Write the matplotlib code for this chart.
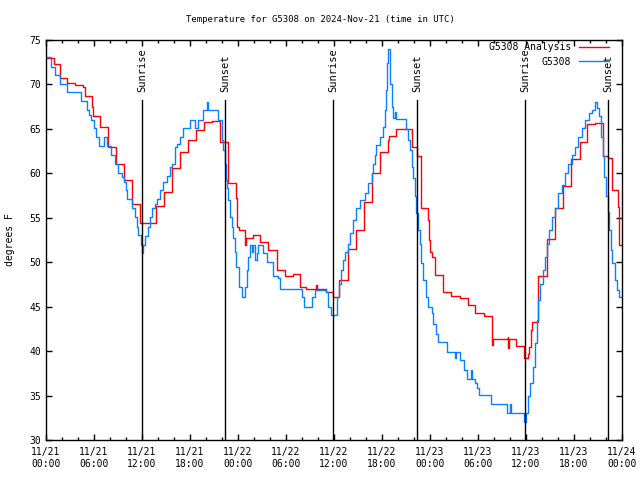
import matplotlib
matplotlib.use('Agg')
import matplotlib.pyplot as plt
from matplotlib.ticker import MultipleLocator

plt.rcParams['font.family'] = ['DejaVu Sans Mono']
plt.rcParams['font.size'] = 6.5

# hours since 2024-11-21 00:00 UTC
ana_hours = [0.0, 1.0, 1.75, 2.6, 3.6, 4.6, 4.9, 5.8, 5.9, 6.8, 7.8, 8.8, 9.75, 10.7,
             11.75, 13.8, 14.75, 15.8, 16.75, 17.8, 18.7, 19.7, 20.7, 21.75, 22.7,
             22.8, 23.7, 23.85, 24.1, 24.9, 25.0, 25.85, 26.75, 27.8, 28.85, 29.9,
             30.85, 31.75, 32.5, 33.75, 33.85, 35.0, 35.9, 36.65, 37.7, 38.75, 39.8,
             40.8, 41.75, 42.7, 42.9, 43.7, 45.7, 46.35, 46.85, 46.9, 47.8, 47.85,
             48.0, 48.3, 48.6, 49.65, 50.6, 51.75, 52.7, 53.6, 54.7, 55.7, 55.9,
             57.7, 57.8, 57.85, 58.7, 59.75, 60.3, 60.4, 60.6, 60.8, 61.5, 62.6,
             63.6, 64.6, 65.6, 66.7, 67.6, 68.6, 69.6, 70.3, 70.7, 71.5, 71.6, 72.0]
ana_temp = [73.0, 72.3, 70.7, 70.2, 69.9, 69.7, 68.7, 67.5, 66.5, 65.2, 63.0, 61.1, 59.25, 56.6,
            54.45, 56.3, 57.9, 60.6, 62.4, 63.8, 64.9, 65.8, 65.9, 63.5, 61.1,
            58.9, 57.2, 54.0, 53.6, 51.9, 52.7, 53.1, 52.3, 51.4, 49.1, 48.45,
            48.7, 47.2, 47.0, 47.4, 47.0, 46.7, 46.1, 48.0, 51.45, 53.6, 56.8,
            60.0, 62.4, 63.75, 64.2, 64.95, 63.0, 61.95, 59.06, 56.06, 54.8, 52.5,
            51.2, 50.6, 48.56, 46.7, 46.2, 46.0, 45.2, 44.25, 43.9, 40.7, 41.4,
            41.6, 40.3, 41.4, 40.6, 39.2, 39.7, 40.5, 42.4, 43.3, 48.4, 52.6,
            56.06, 58.6, 61.6, 63.55, 65.5, 65.7, 61.95, 61.7, 58.1, 56.25, 51.9, 51.9]

obs_hours = [0.0, 0.65, 1.1, 1.75, 2.65, 4.4, 5.1, 5.4, 5.6, 6.0, 6.2, 6.6, 7.25, 7.65,
             8.1, 8.6, 9.0, 9.55, 9.75, 9.95, 10.15, 10.8, 11.1, 11.35, 11.55, 11.85,
             11.95, 12.1, 12.4, 12.7, 13.0, 13.3, 13.6, 13.85, 14.25, 14.65, 15.1,
             15.5, 15.8, 16.1, 16.4, 16.75, 17.15, 18.0, 18.6, 19.0, 19.65, 20.1,
             20.3, 21.55, 21.95, 22.15, 22.35, 22.5, 22.65, 22.8, 23.0, 23.2, 23.4,
             23.6, 23.8, 24.15, 24.45, 24.9, 25.1, 25.3, 25.5, 25.7, 25.9, 26.1,
             26.35, 26.55, 27.1, 27.6, 28.35, 29.05, 29.25, 31.95, 32.2, 33.2, 33.6,
             34.2, 35.05, 35.3, 35.6, 36.4, 36.65, 36.85, 37.1, 37.4, 37.8, 38.0,
             38.4, 38.75, 39.25, 39.9, 40.3, 40.7, 40.9, 41.1, 41.3, 41.75, 42.15,
             42.4, 42.5, 42.65, 42.8, 43.0, 43.2, 43.4, 43.6, 43.75, 45.05, 45.3,
             45.5, 45.7, 45.9, 46.1, 46.3, 46.5, 46.7, 46.9, 47.15, 47.5, 47.8,
             48.2, 48.4, 48.75, 49.05, 50.15, 51.1, 51.3, 51.75, 52.2, 52.6, 53.1,
             53.3, 53.6, 53.85, 54.15, 55.6, 57.6, 58.0, 58.1, 59.75, 60.0, 60.3,
             60.5, 60.85, 61.1, 61.35, 61.55, 61.75, 62.1, 62.4, 62.6, 62.9, 63.2,
             63.6, 64.05, 64.45, 64.9, 65.3, 65.7, 66.1, 66.55, 66.95, 67.4, 67.9,
             68.2, 68.6, 68.85, 69.1, 69.35, 69.6, 69.75, 70.0, 70.2, 70.4, 70.6,
             70.8, 71.1, 71.4, 71.6, 72.0]
obs_temp = [73.05, 72.0, 71.06, 70.05, 69.1, 68.1, 67.1, 66.6, 66.0, 65.06, 64.1, 63.1, 64.1, 63.1,
            62.06, 61.05, 60.07, 59.6, 59.06, 58.1, 57.08, 56.06, 55.1, 54.0, 53.06, 51.9,
            51.0, 51.9, 52.9, 54.0, 55.1, 56.06, 56.6, 57.08, 58.1, 59.06, 59.7,
            60.75, 61.1, 63.0, 63.3, 64.1, 65.06, 66.0, 65.06, 66.0, 67.1, 68.06,
            67.1, 66.0, 63.75, 62.6, 61.0, 59.25, 58.3, 57.0, 55.1, 54.0, 52.7,
            51.2, 49.5, 47.25, 46.1, 47.25, 49.1, 50.6, 51.9, 51.2, 51.9, 50.25,
            51.0, 51.9, 51.0, 50.06, 48.4, 48.2, 46.95, 46.1, 45.0, 46.1, 46.9,
            46.9, 46.6, 45.0, 44.06, 46.1, 47.6, 49.1, 50.25, 51.1, 52.1, 53.25,
            54.75, 56.06, 57.0, 57.75, 58.9, 60.0, 61.1, 62.06, 63.2, 64.1, 65.25,
            67.1, 69.4, 72.4, 74.0, 70.1, 67.5, 66.2, 66.9, 66.1, 65.0, 63.75,
            62.6, 60.75, 59.5, 57.4, 55.5, 53.6, 52.1, 49.9, 48.0, 46.1, 45.0,
            44.25, 43.1, 41.9, 41.06, 39.9, 39.2, 39.9, 39.0, 37.9, 36.9, 37.9,
            36.9, 36.4, 35.8, 35.06, 34.1, 33.07, 34.1, 33.07, 32.06, 33.07, 34.9,
            36.4, 38.25, 40.9, 43.5, 45.75, 47.6, 49.1, 50.6, 52.1, 53.6, 55.1,
            56.06, 57.75, 58.7, 60.0, 61.1, 62.06, 63.0, 64.1, 65.06, 66.0, 66.75,
            67.1, 68.06, 67.3, 66.4, 64.1, 61.9, 59.6, 57.4, 55.7, 53.6, 51.4,
            49.9, 48.0, 46.9, 46.1, 46.1]

sunrise_hours = [12.0, 35.875, 59.875]
sunset_hours = [22.375, 46.375, 70.25]

tick_hours = list(range(0, 73, 6))
tick_labels = ['11/21\n00:00', '11/21\n06:00', '11/21\n12:00', '11/21\n18:00',
               '11/22\n00:00', '11/22\n06:00', '11/22\n12:00', '11/22\n18:00',
               '11/23\n00:00', '11/23\n06:00', '11/23\n12:00', '11/23\n18:00',
               '11/24\n00:00']

fig = plt.figure(figsize=(6.4, 4.8), dpi=100)
ax = fig.add_axes([46/640, 40/480, 576/640, 400/480])

ax.plot(ana_hours, ana_temp, drawstyle='steps-post', color='#ff0000', lw=1.0,
        label='G5308 Analysis')
ax.plot(obs_hours, obs_temp, drawstyle='steps-post', color='#0a80ff', lw=1.0,
        label='G5308')

for h in sunrise_hours:
    ax.plot([h, h], [30, 68.25], color='black', lw=1.0)
    ax.text(h, 69.1, 'Sunrise', rotation=90, ha='center', va='bottom', fontsize=7.5)
for h in sunset_hours:
    ax.plot([h, h], [30, 68.25], color='black', lw=1.0)
    ax.text(h, 69.1, 'Sunset', rotation=90, ha='center', va='bottom', fontsize=7.5)

ax.set_xlim(0, 72)
ax.set_ylim(30, 75)
ax.set_xticks(tick_hours)
ax.set_xticklabels(tick_labels, fontsize=7)
ax.xaxis.set_minor_locator(MultipleLocator(2))
ax.yaxis.set_major_locator(MultipleLocator(5))
ax.tick_params(which='both', direction='in', top=True, right=True, width=1.0)
ax.tick_params(which='major', length=4, labelsize=7)
ax.tick_params(which='minor', length=2)
ax.tick_params(axis='x', pad=5)
for s in ax.spines.values():
    s.set_linewidth(1.0)

ax.set_ylabel('degrees F', fontsize=7, labelpad=10)
fig.text(0.5, 1 - 19/480, 'Temperature for G5308 on 2024-Nov-21 (time in UTC)',
         ha='center', va='center', fontsize=6.5)

ax.legend(loc='upper right', bbox_to_anchor=(0.977, 0.995), frameon=False,
          markerfirst=False, borderpad=0, borderaxespad=0, handlelength=3.1,
          handletextpad=0.8, labelspacing=0.5, fontsize=7)

fig.savefig('out.png', dpi=100)
